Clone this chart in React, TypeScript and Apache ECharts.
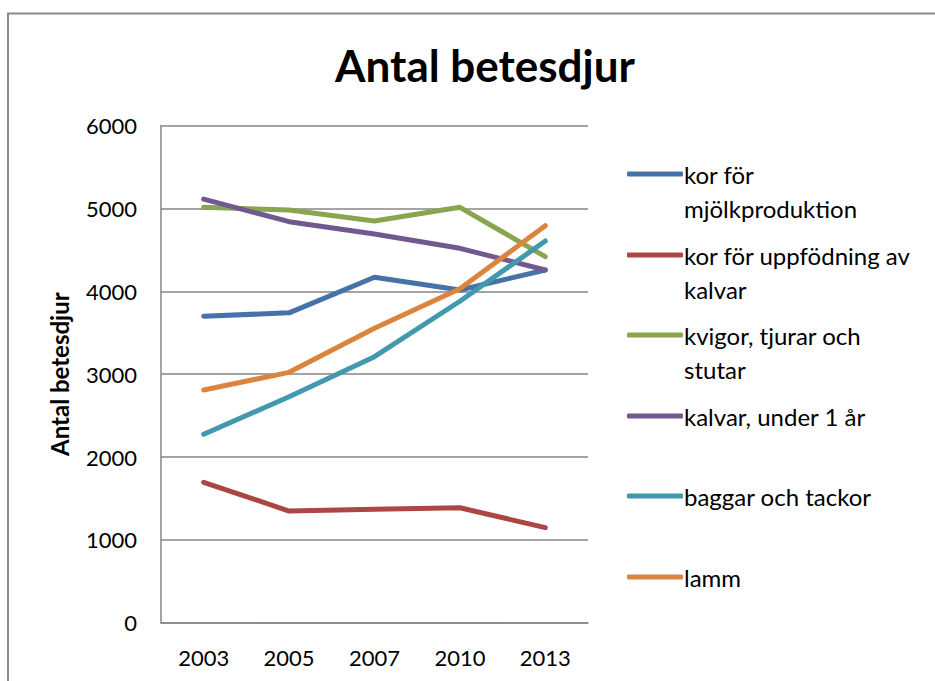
import React, { useEffect, useRef } from "react";
import * as echarts from "echarts";

const years = ["2003", "2005", "2007", "2010", "2013"];
const seriesNames = [
  "kor för mjölkproduktion",
  "kor för uppfödning av kalvar",
  "kvigor, tjurar och stutar",
  "kalvar, under 1 år",
  "baggar och tackor",
  "lamm",
];
const legendFirstLines = ["kor för", "kor för uppfödning av", "kvigor, tjurar och", "kalvar, under 1 år", "baggar och tackor", "lamm"];
const legendSecondLines = ["mjölkproduktion", "kalvar", "stutar", "", "", ""];
const korMjolk = [3700, 3740, 4170, 4015, 4257];
const korKalvar = [1695, 1348, 1369, 1388, 1147];
const kvigor = [5014, 4981, 4849, 5014, 4418];
const kalvar = [5112, 4840, 4692, 4519, 4257];
const baggar = [2274, 2728, 3211, 3880, 4607];
const lamm = [2809, 3022, 3553, 4030, 4792];
const yTicks = [0, 1000, 2000, 3000, 4000, 5000, 6000];

const colors = ["#4572A8", "#AA4643", "#89A54E", "#71588F", "#4198AF", "#DB843D"];
const allData = [korMjolk, korKalvar, kvigor, kalvar, baggar, lamm];
const FONT = "Lato, 'Noto Sans', sans-serif";

export default function App() {
  const ref = useRef<HTMLDivElement>(null);
  useEffect(() => {
    if (!ref.current) return;
    const chart = echarts.init(ref.current, undefined, { renderer: "svg" });
    const legendCenters = [175, 256, 336, 417, 497, 578];
    const fs = 24;
    const legends = seriesNames.map((n, i) => ({
      data: [n],
      orient: "vertical",
      left: 627,
      top: legendCenters[i] - fs / 2 - 1,
      itemWidth: 56,
      itemHeight: 5,
      itemGap: 0,
      padding: 0,
      icon: "roundRect",
      formatter: () => legendFirstLines[i],
      textStyle: { fontFamily: FONT, fontSize: fs, color: "#000", padding: [0, 0, 0, -4] },
      selectedMode: false,
    }));
    const secondLineGraphics = legendSecondLines
      .map((t, i) =>
        t
          ? {
              type: "text",
              x: 684,
              y: legendCenters[i] + 33,
              style: { text: t, fontFamily: FONT, fontSize: fs, fill: "#000", verticalAlign: "middle" },
            }
          : null
      )
      .filter(Boolean);
    chart.setOption({
      animation: false,
      backgroundColor: "#fff",
      title: {
        text: "Antal betesdjur",
        left: 480,
        textAlign: "center",
        top: 38,
        textStyle: { fontFamily: FONT, fontSize: 44, fontWeight: "bold", color: "#000" },
      },
      legend: legends,
      graphic: [
        {
          type: "rect",
          shape: { x: 8, y: 13.5, width: 1000, height: 1000 },
          style: { fill: "none", stroke: "#8a8a8a", lineWidth: 2 },
          silent: true,
        },
        ...secondLineGraphics,
      ],
      grid: { left: 161, top: 125.6, right: 347, bottom: 58.3, containLabel: false },
      xAxis: {
        type: "category",
        data: years,
        boundaryGap: true,
        axisLine: { lineStyle: { color: "#868686", width: 1.5 } },
        axisTick: { show: false },
        axisLabel: { fontFamily: FONT, fontSize: 22, color: "#000", margin: 24 },
      },
      yAxis: {
        type: "value",
        min: yTicks[0],
        max: yTicks[yTicks.length - 1],
        interval: 1000,
        name: "Antal betesdjur",
        nameLocation: "middle",
        nameGap: 90,
        nameTextStyle: { fontFamily: FONT, fontSize: 24, fontWeight: "bold", color: "#000" },
        axisLine: { show: true, lineStyle: { color: "#868686", width: 1.5 } },
        axisTick: { show: false },
        axisLabel: {
          fontFamily: FONT,
          fontSize: 22,
          color: "#000",
          margin: 24,
          formatter: (v: number) => String(v),
        },
        splitLine: { lineStyle: { color: "#868686", width: 1.5 } },
      },
      series: seriesNames.map((n, i) => ({
        name: n,
        type: "line",
        data: allData[i],
        symbol: "none",
        showSymbol: false,
        color: colors[i],
        lineStyle: { width: 5, color: colors[i], cap: "round", join: "round" },
        itemStyle: { color: colors[i] },
      })),
    });
    return () => chart.dispose();
  }, []);
  return (
    <div
      ref={ref}
      style={{ position: "fixed", left: 0, top: 0, width: 935, height: 681 }}
    />
  );
}
